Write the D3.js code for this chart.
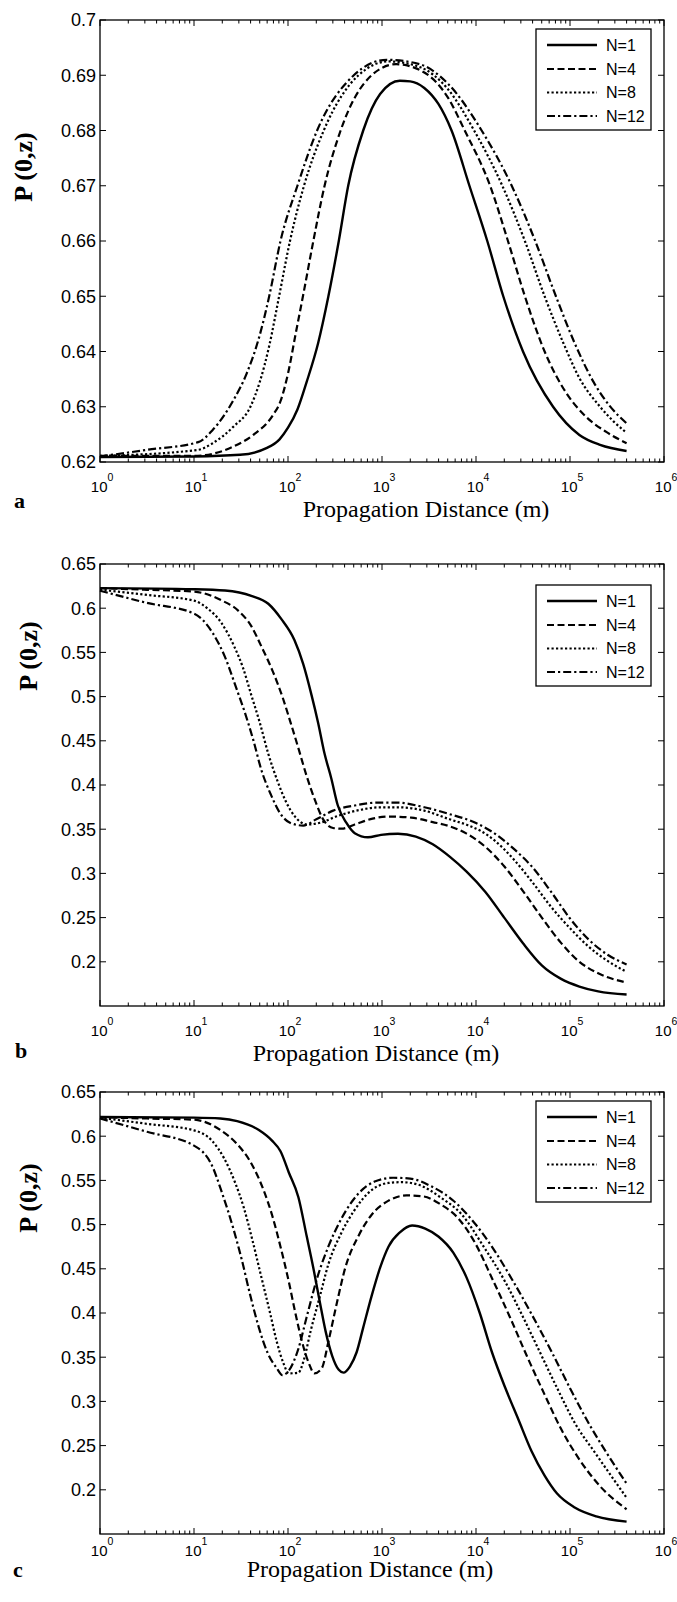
<!DOCTYPE html>
<html><head><meta charset="utf-8">
<script src="https://cdn.jsdelivr.net/npm/d3@7"></script>
<style>
html,body{margin:0;padding:0;background:#fff;}
svg{display:block;}
</style></head>
<body>
<script>
// ---------- DATA ----------
const seriesNames = ["N=1","N=4","N=8","N=12"];
const xTickExponents = [0,1,2,3,4,5,6];
const yTicksA = [0.62,0.63,0.64,0.65,0.66,0.67,0.68,0.69,0.70];
const yTickLabelsA = ["0.62","0.63","0.64","0.65","0.66","0.67","0.68","0.69","0.7"];
const yTicksBC = [0.2,0.25,0.3,0.35,0.4,0.45,0.5,0.55,0.6,0.65];
const yTickLabelsBC = ["0.2","0.25","0.3","0.35","0.4","0.45","0.5","0.55","0.6","0.65"];
const xLabel = "Propagation Distance (m)";
const yLabel = "P (0,z)";

// panel a : [distance (m), P]
const aN1 = [[1,0.6209],[10,0.6210],[30.9,0.6213],[58.9,0.6225],[81.3,0.6241],[100,0.6262],[126,0.6295],[158,0.6345],[209,0.6415],[269,0.650],[347,0.660],[437,0.670],[631,0.680],[955,0.6866],[1549,0.689],[1995,0.6889],[2818,0.6877],[3981,0.6848],[5495,0.680],[8511,0.670],[13183,0.660],[19498,0.650],[31623,0.640],[66069,0.630],[125893,0.6249],[208930,0.6231],[400000,0.622]];
const aN4 = [[1,0.6211],[10,0.6211],[26.3,0.6228],[42.7,0.6249],[69.2,0.6285],[83.2,0.631],[100,0.636],[120,0.643],[148,0.651],[186,0.660],[245,0.670],[363,0.680],[776,0.690],[1413,0.692],[2818,0.6905],[5012,0.686],[7586,0.680],[14125,0.670],[21878,0.660],[33113,0.650],[53703,0.640],[91201,0.6325],[147911,0.6282],[245471,0.6254],[400000,0.6234]];
const aN8 = [[1,0.6211],[11.1,0.6222],[15.8,0.6234],[26.3,0.6264],[39.8,0.630],[50.1,0.6345],[63.1,0.641],[79.4,0.6495],[105,0.660],[148,0.670],[240,0.680],[562,0.690],[1175,0.6925],[2512,0.6915],[5012,0.6875],[9550,0.680],[19055,0.670],[33113,0.660],[53703,0.650],[85114,0.6415],[125893,0.6352],[208930,0.630],[288403,0.6274],[400000,0.6253]];
const aN12 = [[1,0.6210],[3.16,0.6222],[11.1,0.6236],[15.8,0.6258],[26.3,0.6312],[36.3,0.636],[50.1,0.643],[63.1,0.650],[83.2,0.660],[126,0.670],[204,0.680],[501,0.690],[1122,0.6928],[2512,0.692],[5012,0.6885],[11482,0.680],[23988,0.670],[42658,0.660],[70795,0.650],[112202,0.6415],[177828,0.6345],[263027,0.6302],[400000,0.627]];

// panel b
const bN1 = [[1,0.6227],[10,0.6215],[21.4,0.620],[40.7,0.614],[61.7,0.605],[85.1,0.5876],[117,0.564],[145,0.537],[178,0.5017],[209,0.4705],[245,0.4353],[288,0.408],[339,0.3768],[417,0.3573],[513,0.3455],[708,0.3409],[977,0.3436],[1479,0.3448],[2291,0.3417],[3467,0.333],[5248,0.319],[7943,0.302],[12589,0.279],[19953,0.250],[31623,0.221],[50119,0.196],[79433,0.181],[125893,0.172],[199526,0.1665],[400000,0.163]];
const bN4 = [[1,0.6227],[3.16,0.6208],[10,0.6188],[19.5,0.609],[29.5,0.5973],[40.7,0.5797],[52.5,0.556],[69.2,0.528],[87.1,0.500],[107,0.470],[132,0.438],[158,0.410],[195,0.382],[234,0.362],[302,0.3514],[372,0.3506],[513,0.3553],[794,0.362],[1202,0.3643],[2042,0.3631],[3467,0.358],[5012,0.354],[7943,0.345],[12589,0.330],[19953,0.308],[31623,0.280],[50119,0.250],[79433,0.222],[125893,0.200],[199526,0.187],[400000,0.1765]];
const bN8 = [[1,0.621],[3.16,0.615],[10,0.6085],[14.1,0.5993],[19.5,0.5836],[26.9,0.5563],[33.1,0.533],[40.7,0.5017],[50.1,0.4705],[61.7,0.4353],[77.6,0.404],[95.5,0.3807],[117,0.365],[162,0.3553],[219,0.3573],[339,0.365],[575,0.3717],[977,0.3748],[1479,0.3748],[2818,0.371],[5248,0.3612],[7943,0.355],[11220,0.348],[15849,0.337],[25119,0.316],[39811,0.290],[63096,0.262],[100000,0.238],[158489,0.217],[251189,0.201],[400000,0.1886]];
const bN12 = [[1,0.6198],[3.16,0.606],[10,0.594],[15.8,0.572],[21.4,0.5446],[28.2,0.5095],[34.7,0.4822],[42.7,0.451],[52.5,0.4158],[66.1,0.3885],[81.3,0.369],[105,0.3573],[145,0.3541],[200,0.3612],[302,0.371],[513,0.3768],[871,0.380],[1479,0.380],[2818,0.3748],[5248,0.367],[10000,0.357],[15849,0.345],[25119,0.328],[39811,0.307],[63096,0.279],[100000,0.249],[158489,0.225],[251189,0.208],[400000,0.197]];

// panel c
const cN1 = [[1,0.6217],[10,0.621],[19.1,0.620],[28.8,0.617],[49,0.607],[67.6,0.595],[83.2,0.583],[102,0.559],[129,0.531],[158,0.487],[186,0.451],[219,0.4114],[251,0.3795],[295,0.3516],[347,0.3357],[389,0.3325],[457,0.3397],[537,0.3556],[631,0.3835],[776,0.4194],[955,0.4513],[1175,0.4753],[1549,0.4912],[2089,0.499],[2884,0.4955],[3981,0.4865],[5754,0.468],[7943,0.440],[10965,0.400],[14791,0.3556],[20417,0.3157],[28184,0.2798],[38905,0.2439],[53703,0.216],[72444,0.196],[112202,0.180],[190546,0.170],[400000,0.164]];
const cN4 = [[1,0.6215],[3.16,0.620],[10,0.6187],[19.1,0.607],[28.8,0.591],[39.8,0.571],[55,0.539],[67.6,0.511],[83.2,0.475],[102,0.4354],[120,0.3995],[141,0.3676],[166,0.3436],[191,0.3317],[229,0.3376],[269,0.3676],[331,0.4114],[407,0.4513],[562,0.4872],[776,0.5112],[1175,0.5271],[1820,0.533],[2754,0.5319],[4169,0.5231],[6457,0.5072],[9772,0.4793],[14791,0.4394],[22909,0.3955],[34674,0.3516],[53703,0.3077],[81283,0.2678],[123027,0.2359],[208930,0.204],[400000,0.178]];
const cN8 = [[1,0.621],[3.16,0.614],[10,0.6066],[15.5,0.595],[20.9,0.575],[27.5,0.547],[33.9,0.519],[41.7,0.483],[51.3,0.4434],[64.6,0.3995],[75.9,0.3676],[89.1,0.3436],[102,0.3317],[129,0.3325],[148,0.3476],[174,0.3795],[219,0.4194],[269,0.4553],[372,0.4912],[501,0.5152],[776,0.5391],[1175,0.5471],[1622,0.548],[2455,0.545],[4169,0.531],[7079,0.5112],[12023,0.4753],[20417,0.4354],[31623,0.3955],[47863,0.3556],[72444,0.3157],[112202,0.2758],[190546,0.2399],[400000,0.191]];
const cN12 = [[1,0.6201],[3.16,0.605],[10,0.5893],[15.5,0.567],[20,0.535],[26.3,0.495],[32.4,0.4593],[39.8,0.4194],[49,0.3835],[60.3,0.3556],[75.9,0.3376],[87.1,0.3297],[102,0.3348],[129,0.3596],[158,0.3955],[204,0.4394],[269,0.4753],[372,0.5072],[562,0.5351],[851,0.549],[1318,0.553],[1995,0.552],[3388,0.543],[5754,0.527],[9772,0.501],[15849,0.470],[25119,0.435],[39811,0.397],[63096,0.357],[100000,0.315],[158489,0.275],[251189,0.240],[400000,0.207]];

// ---------- LAYOUT ----------
const W = 677, H = 1602;
const left = 100, right = 664;
const dashes = [null, "7,3.5", "2.2,2.3", "8,3,2.2,3"];
const panels = [
  {letter:"a", top:20, bottom:462, yDomain:[0.62,0.70], yTicks:yTicksA, yLabels:yTickLabelsA,
   series:[aN1,aN4,aN8,aN12], legendTop:29, tickBase:492, titleBase:517, titleX:426,
   letterX:14, letterBase:508, yTitleX:32, yTitleY:167},
  {letter:"b", top:564, bottom:1006, yDomain:[0.15,0.65], yTicks:yTicksBC, yLabels:yTickLabelsBC,
   series:[bN1,bN4,bN8,bN12], legendTop:585, tickBase:1036, titleBase:1061, titleX:376,
   letterX:15, letterBase:1058, yTitleX:37, yTitleY:656},
  {letter:"c", top:1092, bottom:1534, yDomain:[0.15,0.65], yTicks:yTicksBC, yLabels:yTickLabelsBC,
   series:[cN1,cN4,cN8,cN12], legendTop:1101, tickBase:1556, titleBase:1577, titleX:370,
   letterX:13, letterBase:1577, yTitleX:37, yTitleY:1198}
];

const svg = d3.select("body").append("svg").attr("width", W).attr("height", H);
svg.append("rect").attr("width", W).attr("height", H).attr("fill", "#fff");

const sans = "'Liberation Sans', Arial, Helvetica, sans-serif";
const serif = "'Liberation Serif', 'Times New Roman', serif";

panels.forEach(p => {
  const x = d3.scaleLog().domain([1, 1e6]).range([left, right]);
  const y = d3.scaleLinear().domain(p.yDomain).range([p.bottom, p.top]);
  const g = svg.append("g");

  const minorX = [];
  xTickExponents.slice(0, -1).forEach(e => { for (let k = 2; k <= 9; k++) minorX.push(k * Math.pow(10, e)); });
  const majorX = xTickExponents.map(e => Math.pow(10, e));
  const tickG = g.append("g").attr("stroke", "#000").attr("stroke-width", 1);
  minorX.forEach(v => {
    tickG.append("line").attr("x1", x(v)).attr("x2", x(v)).attr("y1", p.bottom).attr("y2", p.bottom - 3.5);
    tickG.append("line").attr("x1", x(v)).attr("x2", x(v)).attr("y1", p.top).attr("y2", p.top + 3.5);
  });
  majorX.forEach(v => {
    tickG.append("line").attr("x1", x(v)).attr("x2", x(v)).attr("y1", p.bottom).attr("y2", p.bottom - 6);
    tickG.append("line").attr("x1", x(v)).attr("x2", x(v)).attr("y1", p.top).attr("y2", p.top + 6);
  });
  p.yTicks.forEach(v => {
    tickG.append("line").attr("x1", left).attr("x2", left + 6).attr("y1", y(v)).attr("y2", y(v));
    tickG.append("line").attr("x1", right).attr("x2", right - 6).attr("y1", y(v)).attr("y2", y(v));
  });

  const line = d3.line().x(d => x(d[0])).y(d => y(d[1])).curve(d3.curveMonotoneX);
  p.series.forEach((s, i) => {
    g.append("path").datum(s).attr("d", line)
      .attr("fill", "none").attr("stroke", "#000").attr("stroke-width", i === 0 ? 2.4 : 2.2)
      .attr("stroke-dasharray", dashes[i]);
  });

  g.append("rect").attr("x", left).attr("y", p.top).attr("width", right - left).attr("height", p.bottom - p.top)
    .attr("fill", "none").attr("stroke", "#000").attr("stroke-width", 1.3);

  p.yTicks.forEach((v, i) => {
    g.append("text").attr("x", left - 4).attr("y", y(v)).attr("dy", "0.36em")
      .attr("text-anchor", "end").attr("font-family", sans).attr("font-size", 18)
      .text(p.yLabels[i]);
  });

  xTickExponents.forEach(e => {
    const tx = x(Math.pow(10, e));
    g.append("text").attr("x", tx + 7.5).attr("y", p.tickBase).attr("text-anchor", "end")
      .attr("font-family", sans).attr("font-size", 15).text("10");
    g.append("text").attr("x", tx + 7.5).attr("y", p.tickBase - 11).attr("text-anchor", "start")
      .attr("font-family", sans).attr("font-size", 10.5).text(String(e));
  });

  g.append("text").attr("x", p.titleX).attr("y", p.titleBase).attr("text-anchor", "middle")
    .attr("font-family", serif).attr("font-size", 24).text(xLabel);
  g.append("text").attr("transform", `translate(${p.yTitleX},${p.yTitleY}) rotate(-90)`)
    .attr("text-anchor", "middle").attr("font-family", serif).attr("font-weight", "bold")
    .attr("font-size", 26).text(yLabel);
  g.append("text").attr("x", p.letterX).attr("y", p.letterBase).attr("font-family", serif)
    .attr("font-weight", "bold").attr("font-size", 22).text(p.letter);

  const lx0 = 536, lx1 = 651, lt = p.legendTop;
  g.append("rect").attr("x", lx0).attr("y", lt).attr("width", lx1 - lx0).attr("height", 101)
    .attr("fill", "#fff").attr("stroke", "#000").attr("stroke-width", 1.3);
  const rows = [16, 40, 63.5, 87];
  seriesNames.forEach((n, i) => {
    const ry = lt + rows[i];
    g.append("line").attr("x1", 547).attr("x2", 597).attr("y1", ry).attr("y2", ry)
      .attr("stroke", "#000").attr("stroke-width", i === 0 ? 2.4 : 2.2).attr("stroke-dasharray", dashes[i]);
    g.append("text").attr("x", 606).attr("y", ry).attr("dy", "0.36em")
      .attr("font-family", sans).attr("font-size", 16).text(n);
  });
});
</script>
</body></html>
